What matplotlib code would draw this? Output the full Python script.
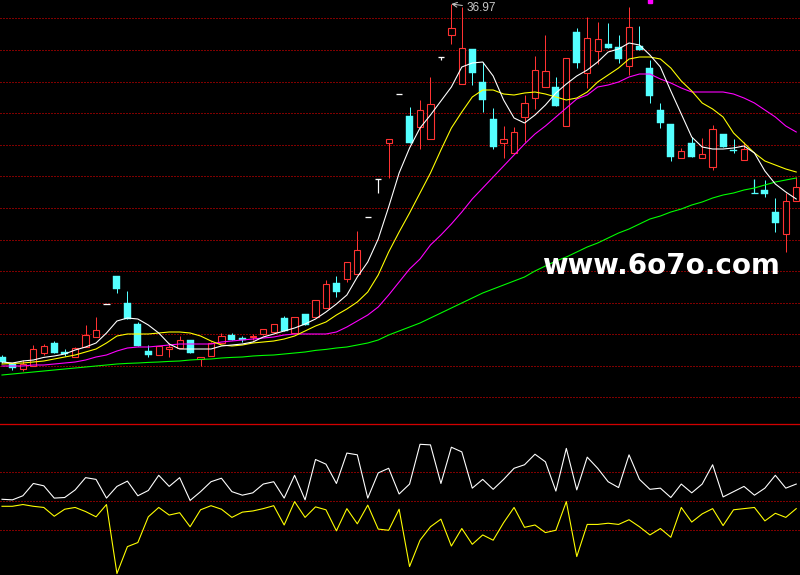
import matplotlib
matplotlib.use('Agg')
import matplotlib.pyplot as plt
from matplotlib.lines import Line2D

# ---------------- data ----------------
opens = [19.32, 18.97, 18.72, 18.87, 19.52, 20.02, 19.57, 19.32, 19.82, 20.32,
         21.97, 23.37, 22.02, 20.97, 19.62, 19.42, 19.72, 19.77, 20.17, 19.22,
         19.37, 20.02, 20.42, 20.27, 20.32, 20.47, 20.57, 21.27, 20.52, 21.47,
         21.32, 21.77, 23.02, 23.22, 23.47, 26.32, 28.22, 30.02, 32.47, 31.37,
         30.82, 30.22, 34.32, 35.42, 32.97, 34.72, 33.07, 31.22, 30.02, 29.52,
         31.32, 32.27, 32.82, 32.82, 30.87, 35.57, 33.52, 34.62, 34.97, 34.82,
         33.87, 34.87, 33.77, 31.67, 30.97, 29.27, 30.02, 29.27, 28.82, 30.47,
         29.67, 29.17, 27.52, 27.67, 26.57, 25.47, 27.12]
highs = [19.42, 19.02, 19.17, 19.92, 19.97, 20.12, 19.72, 19.82, 20.92, 21.32,
         21.97, 23.37, 22.62, 21.07, 19.92, 19.87, 20.02, 20.37, 20.17, 19.32,
         20.07, 20.52, 20.52, 20.37, 20.47, 20.72, 20.97, 21.37, 21.32, 21.47,
         22.17, 23.17, 23.37, 24.07, 25.62, 26.32, 28.22, 30.22, 32.47, 31.82,
         32.17, 33.32, 34.32, 36.97, 36.82, 34.72, 34.07, 31.77, 30.87, 30.82,
         32.42, 34.37, 35.42, 33.32, 34.27, 35.77, 36.32, 36.07, 36.02, 35.42,
         36.82, 35.87, 34.17, 32.02, 30.97, 29.77, 30.32, 30.27, 30.92, 30.47,
         30.22, 30.07, 28.22, 28.17, 27.27, 27.52, 28.32]
lows = [19.02, 18.67, 18.62, 18.87, 19.42, 19.52, 19.37, 19.32, 19.82, 20.32,
        21.97, 22.52, 21.22, 19.87, 19.32, 19.42, 19.32, 19.77, 19.52, 18.87,
        19.37, 20.02, 20.17, 20.07, 20.17, 20.42, 20.57, 20.62, 20.52, 20.92,
        21.32, 21.77, 22.32, 23.07, 23.47, 26.32, 27.52, 28.27, 32.47, 30.02,
        29.72, 30.22, 34.17, 34.97, 32.97, 32.92, 31.57, 29.72, 29.27, 29.52,
        30.07, 31.72, 32.82, 31.87, 30.87, 33.77, 32.77, 33.97, 34.77, 34.02,
        33.42, 34.67, 32.02, 30.77, 29.12, 29.27, 29.32, 29.27, 28.67, 29.82,
        29.52, 29.17, 27.52, 27.32, 25.57, 24.57, 27.12]
closes = [19.07, 18.77, 18.97, 19.72, 19.87, 19.52, 19.47, 19.77, 20.42, 20.67,
          21.97, 22.72, 21.22, 19.87, 19.42, 19.87, 19.82, 20.17, 19.52, 19.32,
          20.02, 20.37, 20.17, 20.17, 20.37, 20.72, 20.97, 20.62, 21.32, 20.92,
          22.17, 22.97, 22.57, 24.07, 24.67, 26.32, 28.22, 30.22, 32.47, 30.02,
          31.67, 31.97, 34.32, 35.77, 34.77, 33.52, 32.17, 29.82, 30.22, 30.57,
          32.02, 33.67, 33.62, 31.87, 34.27, 34.02, 35.27, 35.22, 34.77, 34.22,
          35.82, 34.67, 32.37, 31.02, 29.32, 29.62, 29.32, 29.47, 30.72, 29.82,
          29.62, 29.72, 27.52, 27.47, 26.02, 27.12, 27.82]

ma5 = [19.07, 19.02, 19.12, 19.17, 19.30, 19.37, 19.47, 19.67, 19.82, 20.02,
       20.52, 21.12, 21.27, 21.22, 20.92, 20.52, 19.97, 19.72, 19.72, 19.72,
       19.72, 19.87, 19.92, 19.97, 20.07, 20.32, 20.47, 20.62, 20.77, 20.97,
       21.22, 21.57, 21.97, 22.42, 23.32, 24.07, 25.22, 26.82, 28.52, 29.77,
       30.77, 31.42, 32.12, 32.82, 33.82, 34.02, 34.07, 33.37, 32.17, 31.27,
       31.02, 31.42, 31.92, 32.52, 32.97, 33.37, 33.67, 34.07, 34.57, 34.72,
       35.02, 34.92, 34.42, 33.82, 32.62, 31.47, 30.32, 29.82, 29.72, 29.72,
       29.77, 29.87, 29.52, 28.62, 27.97, 27.57, 27.22]
ma10 = [18.97, 19.00, 19.02, 19.07, 19.12, 19.22, 19.32, 19.42, 19.57, 19.72,
        20.02, 20.37, 20.47, 20.47, 20.47, 20.52, 20.57, 20.57, 20.52, 20.37,
        20.12, 19.92, 19.87, 19.92, 20.02, 20.07, 20.12, 20.22, 20.37, 20.62,
        20.87, 21.07, 21.42, 21.72, 22.07, 22.57, 23.42, 24.57, 25.57, 26.52,
        27.52, 28.52, 29.67, 30.77, 31.57, 32.32, 32.67, 32.67, 32.47, 32.42,
        32.52, 32.57, 32.47, 32.32, 32.17, 32.27, 32.57, 33.07, 33.42, 33.77,
        34.22, 34.32, 34.32, 34.22, 33.77, 33.12, 32.62, 32.02, 31.72, 31.32,
        30.52, 30.02, 29.52, 29.12, 28.92, 28.72, 28.57]
ma20 = [18.87, 18.87, 18.87, 18.92, 18.92, 18.97, 19.02, 19.07, 19.17, 19.32,
        19.42, 19.62, 19.77, 19.82, 19.82, 19.87, 19.92, 19.97, 19.97, 19.97,
        19.97, 20.07, 20.12, 20.17, 20.22, 20.27, 20.32, 20.42, 20.47, 20.47,
        20.47, 20.47, 20.57, 20.82, 21.12, 21.42, 21.82, 22.42, 23.07, 23.72,
        24.22, 24.92, 25.42, 25.97, 26.57, 27.22, 27.77, 28.32, 28.87, 29.42,
        29.97, 30.47, 30.87, 31.32, 31.77, 32.22, 32.42, 32.82, 32.92, 33.07,
        33.32, 33.47, 33.47, 33.22, 33.02, 32.77, 32.57, 32.57, 32.57, 32.57,
        32.47, 32.27, 32.02, 31.67, 31.32, 30.87, 30.57]
ma60 = [18.42, 18.47, 18.52, 18.57, 18.62, 18.67, 18.72, 18.77, 18.82, 18.87,
        18.92, 18.97, 19.00, 19.02, 19.05, 19.07, 19.10, 19.12, 19.17, 19.20,
        19.22, 19.27, 19.30, 19.32, 19.37, 19.40, 19.42, 19.47, 19.52, 19.57,
        19.65, 19.70, 19.77, 19.82, 19.92, 20.02, 20.17, 20.42, 20.62, 20.82,
        21.02, 21.27, 21.52, 21.77, 22.02, 22.27, 22.52, 22.72, 22.92, 23.12,
        23.32, 23.62, 23.87, 24.12, 24.32, 24.57, 24.82, 25.02, 25.27, 25.52,
        25.72, 25.97, 26.22, 26.37, 26.57, 26.72, 26.92, 27.07, 27.27, 27.42,
        27.52, 27.67, 27.77, 27.92, 28.07, 28.17, 28.27]

ind_white = [3, 2, 9, 30, 26, 5, 6, 19, 40, 37,
             5, 25, 34, 9, 18, 44, 25, 40, 1, 16,
             33, 39, 16, 10, 14, 29, 33, 5, 44, 2,
             71, 63, 30, 82, 79, 5, 48, 56, 12, 29,
             97, 96, 30, 92, 84, 22, 37, 20, 37, 56,
             62, 80, 67, 17, 90, 19, 75, 56, 33, 23,
             79, 37, 20, 22, 6, 29, 14, 29, 62, 7,
             16, 25, 10, 22, 44, 22, 29]
ind_yellow = [-9, -9, -6, -9, -11, -26, -14, -11, -18, -27,
              -6, -124, -78, -71, -27, -11, -24, -20, -44, -15,
              -8, -14, -28, -19, -17, -13, -8, -41, -1, -28,
              -10, -15, -51, -13, -39, -7, -48, -50, -14, -112,
              -67, -44, -31, -77, -47, -74, -58, -67, -37, -11,
              -45, -41, -54, -50, -1, -95, -40, -40, -38, -40,
              -32, -44, -58, -47, -62, -11, -36, -22, -13, -42,
              -15, -13, -11, -34, -21, -28, -13]

price_grid = [36.255 - 1.58 * k for k in range(13)]
ind_grid = [50, 0, -50]
high_label = "36.97"
watermark = "www.6o7o.com"
signal_index = 62

# ---------------- style ----------------
RED = '#FF3232'
CYAN = '#54FFFF'
WHITE = '#FFFFFF'
YELLOW = '#FFFF00'
MAGENTA = '#FF00FF'
GREEN = '#00FF00'
GRID = '#FF0000'
PX = 0.72  # one pixel in points at dpi 100

W, H = 800, 575
fig = plt.figure(figsize=(W / 100, H / 100), dpi=100, facecolor='black')
sep = 424
ax = fig.add_axes([0, 1 - sep / H, 1, sep / H])
ax2 = fig.add_axes([0, 0, 1, 1 - sep / H])
for a in (ax, ax2):
    a.set_facecolor('black')
    a.set_axis_off()

n = len(closes)
xs = list(range(n))
ax.set_xlim(-0.19, 76.36)
ax2.set_xlim(-0.19, 76.36)
ax.set_ylim(15.97, 37.17)
ax2.set_ylim(-126.5, 131.7)

for g in price_grid:
    ax.axhline(g, color=GRID, lw=PX, ls=(0, (1, 2)), zorder=0)
for g in ind_grid:
    ax2.axhline(g, color=GRID, lw=PX, ls=(0, (1, 2)), zorder=0)

bw = 0.6
for i in xs:
    o, h, l, c = opens[i], highs[i], lows[i], closes[i]
    if c > o:
        ax.vlines(i, c, h, color=RED, lw=PX, zorder=2)
        ax.vlines(i, l, o, color=RED, lw=PX, zorder=2)
        ax.bar(i, c - o, bottom=o, width=bw, facecolor='black', edgecolor=RED,
               linewidth=PX * 1.1, zorder=2)
    elif c < o:
        ax.vlines(i, l, h, color=CYAN, lw=PX, zorder=2)
        ax.bar(i, o - c, bottom=c, width=bw + 0.08, facecolor=CYAN, edgecolor=CYAN,
               linewidth=0.3, zorder=2)
    else:
        col = WHITE if c == h else CYAN
        ax.vlines(i, l, h, color=col, lw=PX * 1.2, zorder=2)
        ax.hlines(c, i - bw / 2, i + bw / 2, color=col, lw=PX * 1.3, zorder=2)

ax.plot(xs, ma60, color=GREEN, lw=PX * 1.1, zorder=3)
ax.plot(xs, ma20, color=MAGENTA, lw=PX * 1.1, zorder=3)
ax.plot(xs, ma10, color=YELLOW, lw=PX * 1.1, zorder=3)
ax.plot(xs, ma5, color=WHITE, lw=PX * 1.1, zorder=4)

# highest price annotation
imax = highs.index(max(highs))
ax.annotate(high_label, xy=(imax, highs[imax]), xytext=(imax + 1.45, highs[imax] - 0.2),
            color='#C8C8C8', fontsize=8.5, family='Liberation Sans', va='center', ha='left',
            arrowprops=dict(arrowstyle='->', color='#C8C8C8', lw=PX, shrinkA=1, shrinkB=0))

# small magenta signal at top
ax.plot([signal_index], [37.12], marker='s', ms=2.3, color=MAGENTA, mec=MAGENTA,
        clip_on=False, zorder=5)

# lower indicator
ax2.plot(xs, ind_white, color=WHITE, lw=PX * 1.1, zorder=3)
ax2.plot(xs, ind_yellow, color=YELLOW, lw=PX * 1.1, zorder=3)

# separator line
fig.add_artist(Line2D([0, 1], [1 - sep / H, 1 - sep / H], transform=fig.transFigure,
                      color='#D00000', lw=PX * 1.3))

# watermark
fig.text(661 / W, 1 - 273.5 / H, watermark, color='white', fontsize=20,
         fontweight='bold', family='DejaVu Sans', ha='center', va='baseline', zorder=10)

fig.savefig('out.png', dpi=100, facecolor='black')
